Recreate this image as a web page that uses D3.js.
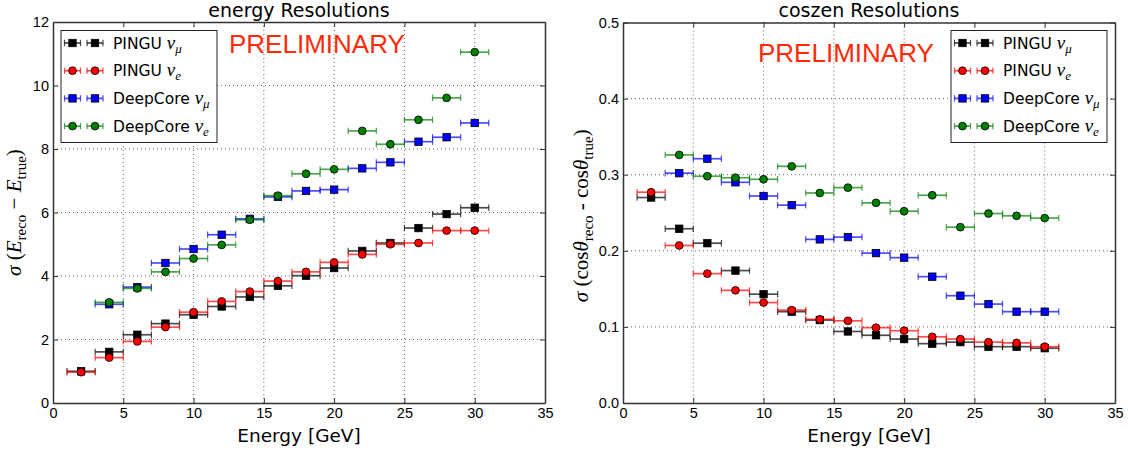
<!DOCTYPE html>
<html>
<head>
<meta charset="utf-8">
<script src="https://cdn.jsdelivr.net/npm/d3@7/dist/d3.min.js"></script>
<style>
  html, body { margin: 0; padding: 0; background: #fff; }
  svg { display: block; }
</style>
</head>
<body>
<svg id="chart" width="1128" height="452"></svg>
<script>
// bin centres (GeV), each bin is 2 GeV wide
const energies = [2, 4, 6, 8, 10, 12, 14, 16, 18, 20, 22, 24, 26, 28, 30];

// energy resolution, sigma(E_reco - E_true)
const energyPinguMu = [1.00, 1.61, 2.15, 2.50, 2.78, 3.04, 3.34, 3.69, 4.01, 4.25, 4.79, 5.04, 5.51, 5.95, 6.15];
const energyPinguE  = [0.97, 1.43, 1.94, 2.39, 2.86, 3.20, 3.51, 3.84, 4.13, 4.43, 4.68, 5.00, 5.04, 5.43, 5.43];
const energyDcMu    = [null, 3.11, 3.65, 4.41, 4.85, 5.30, 5.80, 6.49, 6.68, 6.72, 7.39, 7.58, 8.23, 8.37, 8.82];
const energyDcE     = [null, 3.17, 3.61, 4.13, 4.55, 4.98, 5.77, 6.53, 7.22, 7.36, 8.57, 8.15, 8.92, 9.61, 11.05];

// coszen resolution, sigma(cos_reco - cos_true)
const coszenPinguMu = [0.270, 0.229, 0.210, 0.174, 0.143, 0.120, 0.109, 0.094, 0.089, 0.084, 0.078, 0.080, 0.074, 0.074, 0.072];
const coszenPinguE  = [0.277, 0.207, 0.170, 0.148, 0.132, 0.122, 0.110, 0.108, 0.099, 0.095, 0.087, 0.084, 0.080, 0.079, 0.074];
const coszenDcMu    = [null, 0.302, 0.321, 0.290, 0.272, 0.260, 0.215, 0.218, 0.197, 0.191, 0.166, 0.141, 0.130, 0.120, 0.120];
const coszenDcE     = [null, 0.326, 0.298, 0.296, 0.294, 0.311, 0.276, 0.283, 0.263, 0.252, 0.273, 0.231, 0.249, 0.246, 0.243];

const xTicks = [0, 5, 10, 15, 20, 25, 30, 35];
const energyYTicks = [0, 2, 4, 6, 8, 10, 12];
const coszenYTicks = [0, 0.1, 0.2, 0.3, 0.4, 0.5];

const seriesNames = ["PINGU", "PINGU", "DeepCore", "DeepCore"];
const seriesFlavours = ["μ", "e", "μ", "e"];
const seriesColors = ["#000000", "#ff0000", "#0000ff", "#008000"];
const seriesMarkers = ["square", "circle", "square", "circle"];

const SANS = "DejaVu Sans, sans-serif";
const ARIAL = "Liberation Sans, Arial, sans-serif";
const SERIF = "Liberation Serif, DejaVu Serif, serif";

const svg = d3.select("#chart");

const drawMarker = (g, kind, color, cx, cy) => {
  if (kind === "square") {
    g.append("rect")
      .attr("x", cx - 3.7).attr("y", cy - 3.7)
      .attr("width", 7.4).attr("height", 7.4)
      .attr("fill", color).attr("stroke", "#000").attr("stroke-width", 0.8);
  } else {
    g.append("circle")
      .attr("cx", cx).attr("cy", cy).attr("r", 3.9)
      .attr("fill", color).attr("stroke", "#000").attr("stroke-width", 0.8);
  }
};

const drawErrorBar = (g, color, xa, xb, cy) => {
  g.append("line")
    .attr("x1", xa).attr("x2", xb).attr("y1", cy).attr("y2", cy)
    .attr("stroke", color).attr("stroke-width", 1.7).attr("stroke-opacity", 0.7);
  for (const xc of [xa, xb]) {
    g.append("line")
      .attr("x1", xc).attr("x2", xc).attr("y1", cy - 3.2).attr("y2", cy + 3.2)
      .attr("stroke", color).attr("stroke-width", 1.2).attr("stroke-opacity", 0.7);
  }
};

const drawPanel = ({ box, title, yMax, yTicks, yFormat, series, legendX, prelim, ylabel }) => {
  const { x0, x1, y0, y1 } = box;
  const xScale = d3.scaleLinear().domain([0, 35]).range([x0, x1]);
  const yScale = d3.scaleLinear().domain([0, yMax]).range([y1, y0]);
  const g = svg.append("g");

  // grid
  g.append("g").selectAll("line")
    .data(xTicks.slice(1, -1))
    .join("line")
    .attr("x1", (d) => xScale(d)).attr("x2", (d) => xScale(d))
    .attr("y1", y0).attr("y2", y1)
    .attr("stroke", "#666").attr("stroke-dasharray", "1,3");
  g.append("g").selectAll("line")
    .data(yTicks.slice(1, -1))
    .join("line")
    .attr("x1", x0).attr("x2", x1)
    .attr("y1", (d) => yScale(d)).attr("y2", (d) => yScale(d))
    .attr("stroke", "#666").attr("stroke-dasharray", "1,3");

  // data
  series.forEach((vals, i) => {
    const sg = g.append("g");
    energies.forEach((e, j) => {
      if (vals[j] == null) return;
      drawErrorBar(sg, seriesColors[i], xScale(e - 1), xScale(e + 1), yScale(vals[j]));
    });
    energies.forEach((e, j) => {
      if (vals[j] == null) return;
      drawMarker(sg, seriesMarkers[i], seriesColors[i], xScale(e), yScale(vals[j]));
    });
  });

  // axes, ticks pointing inward
  const styleAxis = (ag) => {
    ag.attr("font-family", ARIAL).attr("font-size", 14.5);
    ag.select(".domain").attr("stroke", "#333").attr("stroke-width", 1.5);
    ag.selectAll(".tick line").attr("stroke", "#333");
    ag.selectAll(".tick text").attr("fill", "#000");
  };
  g.append("g").attr("transform", `translate(0,${y1})`)
    .call(d3.axisBottom(xScale).tickValues(xTicks).tickFormat(d3.format("d"))
      .tickSizeInner(-5).tickSizeOuter(0).tickPadding(5))
    .call(styleAxis);
  g.append("g").attr("transform", `translate(0,${y0})`)
    .call(d3.axisTop(xScale).tickValues(xTicks).tickFormat("")
      .tickSizeInner(-5).tickSizeOuter(0))
    .call(styleAxis);
  g.append("g").attr("transform", `translate(${x0},0)`)
    .call(d3.axisLeft(yScale).tickValues(yTicks).tickFormat(d3.format(yFormat))
      .tickSizeInner(-5).tickSizeOuter(0).tickPadding(4))
    .call(styleAxis);
  g.append("g").attr("transform", `translate(${x1},0)`)
    .call(d3.axisRight(yScale).tickValues(yTicks).tickFormat("")
      .tickSizeInner(-5).tickSizeOuter(0))
    .call(styleAxis);

  // title and x label
  g.append("text")
    .attr("x", (x0 + x1) / 2).attr("y", 17)
    .attr("text-anchor", "middle")
    .attr("font-family", SANS).attr("font-size", 19)
    .text(title);
  g.append("text")
    .attr("x", (x0 + x1) / 2).attr("y", 442)
    .attr("text-anchor", "middle")
    .attr("font-family", SANS).attr("font-size", 18.5)
    .text("Energy [GeV]");

  // y label (math style)
  const yl = g.append("text")
    .attr("transform", `translate(${ylabel.x},${(y0 + y1) / 2 + ylabel.dy}) rotate(-90)`)
    .attr("text-anchor", "middle")
    .attr("font-family", SERIF).attr("font-size", 21);
  ylabel.parts.forEach((p) => {
    const t = yl.append("tspan").text(p.t);
    if (p.i) t.attr("font-style", "italic");
    if (p.sub) t.attr("font-size", 15).attr("dy", 5);
    if (p.up) t.attr("dy", -5);
  });

  // PRELIMINARY
  g.append("text")
    .attr("x", prelim.x).attr("y", prelim.y)
    .attr("font-family", ARIAL).attr("font-size", 26)
    .attr("fill", "#ff2a0a")
    .text("PRELIMINARY");

  // legend
  const lg = g.append("g");
  lg.append("rect")
    .attr("x", legendX).attr("y", 30.5)
    .attr("width", 156).attr("height", 112)
    .attr("fill", "#fff").attr("stroke", "#222").attr("stroke-width", 1);
  seriesNames.forEach((name, i) => {
    const cy = 43 + i * 27.7;
    for (const mx of [legendX + 11.5, legendX + 34]) {
      drawErrorBar(lg, seriesColors[i], mx - 8, mx + 8, cy);
      drawMarker(lg, seriesMarkers[i], seriesColors[i], mx, cy);
    }
    const t = lg.append("text")
      .attr("x", legendX + 52).attr("y", cy + 5.5)
      .attr("font-family", SANS).attr("font-size", 15.5);
    t.append("tspan").text(name + " ");
    t.append("tspan").attr("font-family", SERIF).attr("font-style", "italic")
      .attr("font-size", 19).text("ν");
    t.append("tspan").attr("font-family", SERIF).attr("font-style", "italic")
      .attr("font-size", 13).attr("dy", 4).text(seriesFlavours[i]);
  });
};

drawPanel({
  box: { x0: 53, x1: 545, y0: 22, y1: 403 },
  title: "energy Resolutions",
  yMax: 12,
  yTicks: energyYTicks,
  yFormat: "d",
  series: [energyPinguMu, energyPinguE, energyDcMu, energyDcE],
  legendX: 61,
  prelim: { x: 229, y: 53 },
  ylabel: {
    x: 21, dy: 0,
    parts: [
      { t: "σ", i: true }, { t: " (" }, { t: "E", i: true }, { t: "reco", sub: true },
      { t: " − ", up: true }, { t: "E", i: true }, { t: "true", sub: true }, { t: ")", up: true },
    ],
  },
});

drawPanel({
  box: { x0: 623, x1: 1115, y0: 22.5, y1: 403 },
  title: "coszen Resolutions",
  yMax: 0.5,
  yTicks: coszenYTicks,
  yFormat: ".1f",
  series: [coszenPinguMu, coszenPinguE, coszenDcMu, coszenDcE],
  legendX: 951,
  prelim: { x: 758, y: 62 },
  ylabel: {
    x: 588, dy: 3,
    parts: [
      { t: "σ", i: true }, { t: " (cos" }, { t: "θ", i: true }, { t: "reco", sub: true },
      { t: " - cos", up: true }, { t: "θ", i: true }, { t: "true", sub: true }, { t: ")", up: true },
    ],
  },
});
</script>
</body>
</html>
